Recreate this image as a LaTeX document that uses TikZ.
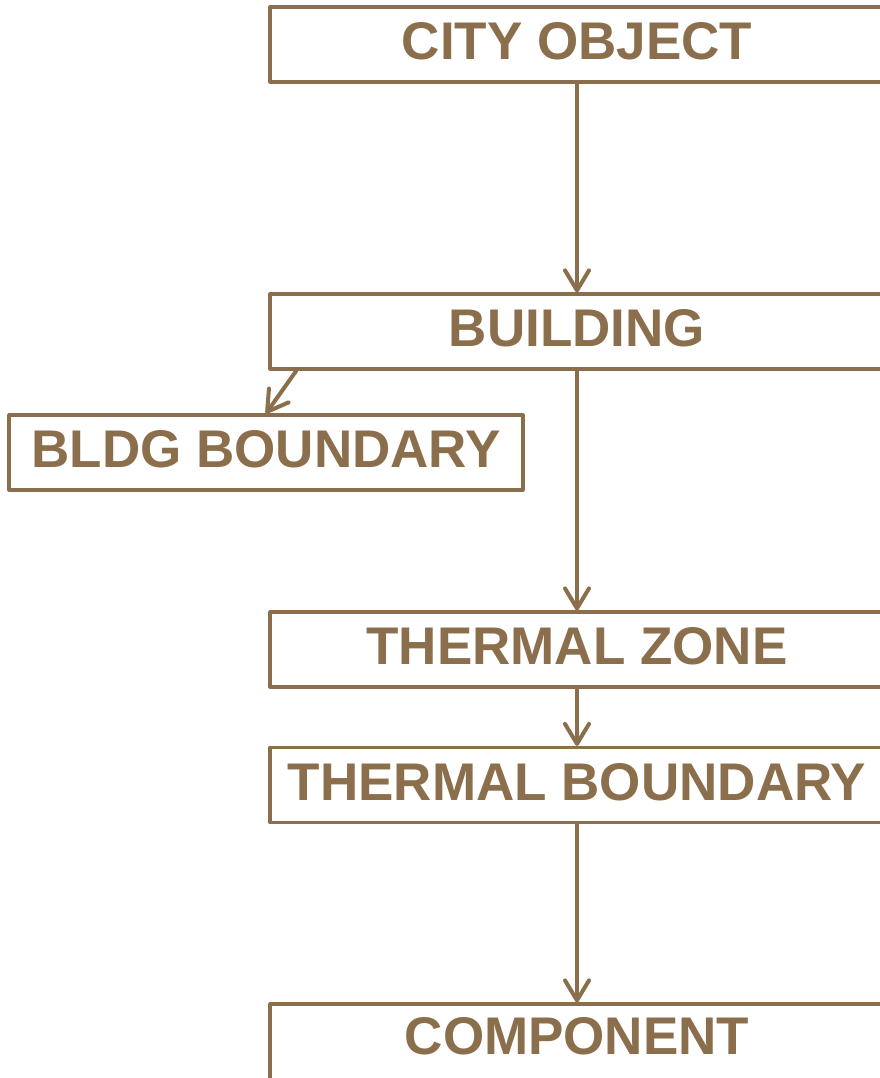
\documentclass[tikz,border=0pt]{standalone}
\usepackage{fontspec}
\setmainfont{Liberation Sans}
\usetikzlibrary{arrows.meta}
\definecolor{brn}{RGB}{139,110,75}
\begin{document}
\begin{tikzpicture}[x=1pt,y=-1pt,
  box/.style={draw=brn, line width=3.2pt, line join=round, minimum width=614pt, minimum height=75pt,
    inner sep=0pt, text=brn, font=\fontsize{53}{53}\selectfont\bfseries, text height=38pt, text depth=8pt},
  arr/.style={draw=brn, line width=4pt, line cap=round,
    -{Straight Barb[length=20pt,width=24pt,line width=4pt,round]}}]
\useasboundingbox (0,0) rectangle (880,1078);
\clip (0,0) rectangle (880,1078);
\fill[white] (0,0) rectangle (880,1078);
\node[box] (city) at (577,44.5) {CITY OBJECT};
\node[box] (bldg) at (577,331.5) {BUILDING};
\node[box, minimum width=514pt] (bb) at (266,452.5) {BLDG BOUNDARY};
\node[box] (tz) at (577,649.5) {THERMAL ZONE};
\node[box] (tb) at (577,785) {THERMAL BOUNDARY};
\node[box, minimum height=80pt, text depth=18pt] (comp) at (577,1044) {COMPONENT};
\path (bldg.south west) ++(28,0) coordinate (b1);
\draw[arr] (city.south) -- (bldg.north);
\draw[arr] (b1) -- (bb.north);
\draw[arr] (bldg.south) -- (tz.north);
\draw[arr] (tz.south) -- (tb.north);
\draw[arr] (tb.south) -- (comp.north);
\end{tikzpicture}
\end{document}
